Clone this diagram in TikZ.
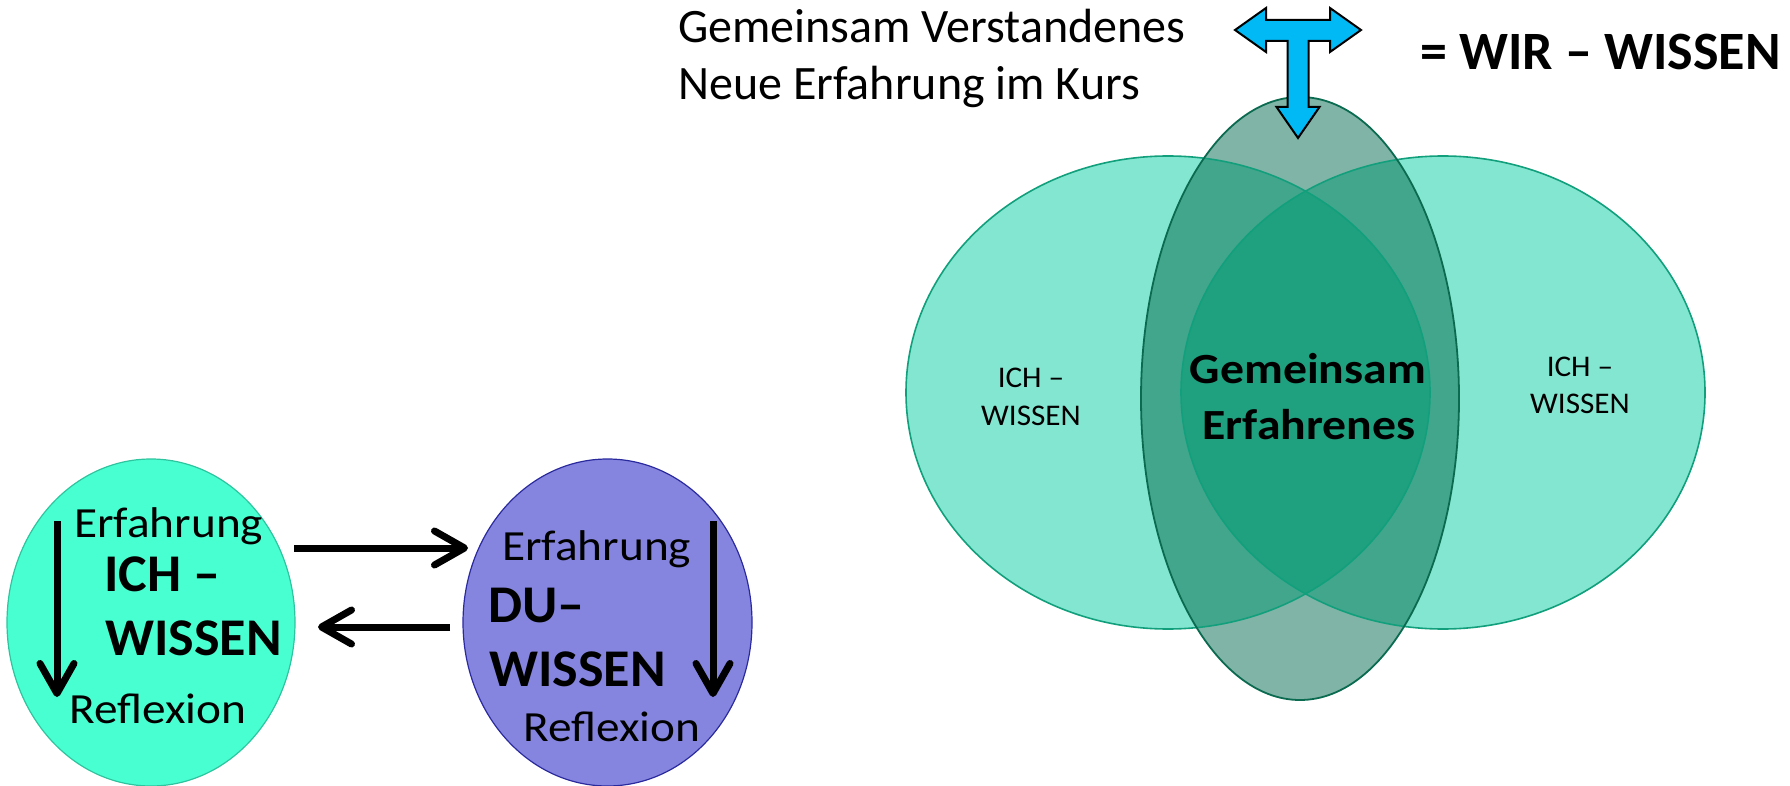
\documentclass[tikz,border=0pt]{standalone}
\usepackage{graphicx}
\usepackage{fontspec}
\setmainfont{Carlito}
\usetikzlibrary{arrows.meta,shapes.geometric}
\newcommand{\hstr}[2]{\scalebox{#1}[1]{#2}}
\definecolor{cyanfill}{HTML}{48FFD1}
\definecolor{cyanline}{HTML}{2EC49E}
\definecolor{purplefill}{HTML}{8585E0}
\definecolor{purpleline}{HTML}{2A2A9E}
\definecolor{vennlight}{HTML}{83E6D0}
\definecolor{venntall}{HTML}{80B4A6}
\definecolor{vennmid}{HTML}{42A68C}
\definecolor{venndark}{HTML}{1FA07E}
\definecolor{bigline}{HTML}{12A07C}
\definecolor{tallline}{HTML}{0B6B50}
\definecolor{tblue}{HTML}{00B9F5}
\tikzset{
  bubble/.style={ellipse, inner sep=0pt, minimum width=288pt, minimum height=327pt, line width=1.2pt},
  txtreg/.style={inner sep=0pt, anchor=base west, font=\fontsize{43}{52}\selectfont},
  txtbold/.style={inner sep=0pt, anchor=base west, font=\bfseries\fontsize{53}{62}\selectfont},
  txttop/.style={inner sep=0pt, anchor=base west, font=\fontsize{48}{57}\selectfont},
  txtwir/.style={inner sep=0pt, anchor=base west, font=\bfseries\fontsize{54}{62}\selectfont},
  txtsmall/.style={inner sep=0pt, anchor=base, font=\fontsize{30}{38}\selectfont},
  txtmid/.style={inner sep=0pt, anchor=base, font=\bfseries\fontsize{43}{56}\selectfont},
  bigarrow/.style={line width=7pt, -{Straight Barb[length=30pt, width=34pt, round]}},
}
\begin{document}
\begin{tikzpicture}[x=1pt,y=-1pt]
\useasboundingbox (0,0) rectangle (1790,786);
% ---------- left diagram ----------
\node[bubble, draw=cyanline, fill=cyanfill] (ich) at (151,622.5) {};
\node[bubble, draw=purpleline, fill=purplefill, minimum width=289pt] (du) at (607.5,622.5) {};
\node[txtreg] (erf1) at (74,537) {\hstr{1.1}{Erfahrung}};
\node[txtbold] (ich1) at (104,591) {\hstr{1.02}{ICH –}};
\node[txtbold] (ich2) at (105,655) {\hstr{1.02}{WISSEN}};
\node[txtreg] (ref1) at (69,723) {\hstr{1.1}{Reflexion}};
\node[txtreg] (erf2) at (502,560) {\hstr{1.1}{Erfahrung}};
\node[txtbold] (du1) at (488,622) {\hstr{1.02}{DU–}};
\node[txtbold] (du2) at (489,686) {\hstr{1.02}{WISSEN}};
\node[txtreg] (ref2) at (523,741) {\hstr{1.1}{Reflexion}};
\coordinate (a1s) at (57,521);
\coordinate (a1e) at (57,697);
\coordinate (a2s) at (713,521);
\coordinate (a2e) at (713,697);
\coordinate (h1s) at (294,548);
\coordinate (h1e) at (468,548);
\coordinate (h2s) at (450,627);
\coordinate (h2e) at (318,627);
\draw[bigarrow] (a1s) -- (a1e);
\draw[bigarrow] (a2s) -- (a2e);
\draw[bigarrow] (h1s) -- (h1e);
\draw[bigarrow] (h2s) -- (h2e);
% ---------- Venn diagram ----------
\coordinate (cL) at (1168,392.5);
\coordinate (cR) at (1443,392.5);
\coordinate (cT) at (1300,398.5);
\fill[vennlight] (cL) ellipse [x radius=262pt, y radius=236.5pt];
\fill[vennlight] (cR) ellipse [x radius=262pt, y radius=236.5pt];
\fill[venntall] (cT) ellipse [x radius=159pt, y radius=301.5pt];
\begin{scope}
  \clip (cT) ellipse [x radius=159pt, y radius=301.5pt];
  \fill[vennmid] (cL) ellipse [x radius=262pt, y radius=236.5pt];
  \fill[vennmid] (cR) ellipse [x radius=262pt, y radius=236.5pt];
  \clip (cL) ellipse [x radius=262pt, y radius=236.5pt];
  \fill[venndark] (cR) ellipse [x radius=262pt, y radius=236.5pt];
\end{scope}
\draw[bigline, line width=1.6pt] (cL) ellipse [x radius=262pt, y radius=236.5pt];
\draw[bigline, line width=1.6pt] (cR) ellipse [x radius=262pt, y radius=236.5pt];
\draw[tallline, line width=1.8pt] (cT) ellipse [x radius=159pt, y radius=301.5pt];
\node[txtsmall] (li1) at (1031,387) {\hstr{1.04}{ICH –}};
\node[txtsmall] (li2) at (1031,425) {\hstr{1.04}{WISSEN}};
\node[txtsmall] (ri1) at (1580,376) {\hstr{1.04}{ICH –}};
\node[txtsmall] (ri2) at (1580,413) {\hstr{1.04}{WISSEN}};
\node[txtmid] (g1) at (1308,383) {\hstr{1.11}{Gemeinsam}};
\node[txtmid] (g2) at (1309,439) {\hstr{1.11}{Erfahrenes}};
% ---------- top ----------
\node[txttop] (t1) at (678,43) {Gemeinsam Verstandenes};
\node[txttop] (t2) at (678,100) {Neue Erfahrung im Kurs};
\node[txtwir] (wir) at (1420,70) {= WIR – WISSEN};
\draw[fill=tblue, draw=black, line width=2pt, line join=miter]
  (1235,30) -- (1266,8) -- (1266,20) -- (1330,20) -- (1330,8) -- (1361,30)
  -- (1330,52) -- (1330,41) -- (1308.5,41) -- (1308.5,107) -- (1319.5,107)
  -- (1298,138) -- (1276.5,107) -- (1287.5,107) -- (1287.5,41) -- (1266,41)
  -- (1266,52) -- cycle;
\end{tikzpicture}
\end{document}
